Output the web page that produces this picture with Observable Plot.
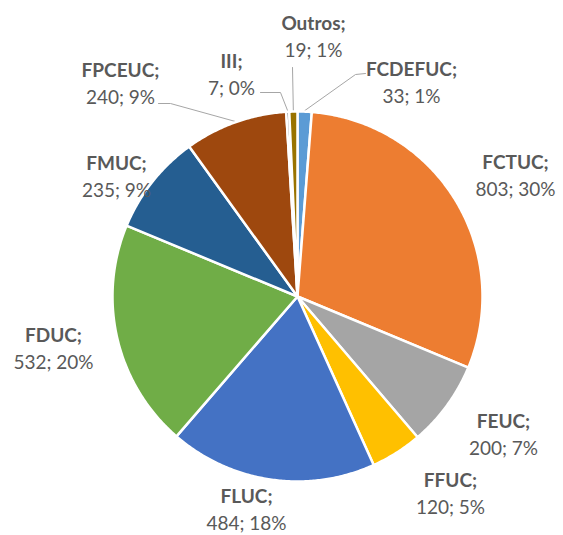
<!DOCTYPE html>
<html>
<head>
<meta charset="utf-8">
<script src="https://cdn.jsdelivr.net/npm/d3@7"></script>
<script src="https://cdn.jsdelivr.net/npm/@observablehq/plot@0.6"></script>
<style>
  html, body { margin: 0; padding: 0; background: #fff; }
</style>
</head>
<body>
<div id="chart"></div>
<script>
// ---- data ----
const categories = ["FCDEFUC", "FCTUC", "FEUC", "FFUC", "FLUC", "FDUC", "FMUC", "FPCEUC", "III", "Outros"];
const values = [33, 803, 200, 120, 484, 532, 235, 240, 7, 19];
const percentLabels = ["1%", "30%", "7%", "5%", "18%", "20%", "9%", "9%", "0%", "1%"];

// ---- style / layout ----
const colors = ["#5B9BD5", "#ED7D31", "#A5A5A5", "#FFC000", "#4472C4", "#70AD47", "#255E91", "#9E480E", "#636363", "#997300"];
const W = 563, H = 535;
const cx = 297, cy = 296, R = 185;
// label block centres (pixel space)
const labelX = [411, 515, 503, 450, 246, 53, 116, 120, 231, 313];
const labelY = [82.5, 176, 435, 493.5, 510, 348.5, 177, 83.5, 75, 36.5];
// leader-line elbow points, attached to labels (null = no leader)
const leaderElbows = [
  [[365, 73], [355, 74]],
  null, null, null, null, null, null,
  [[158, 103], [170, 103]],
  [[260, 92], [280, 92]],
  [[292, 67]]
];

// ---- geometry from data ----
const arcs = d3.pie().sort(null).value(d => d)(values);
const polar = (a, r) => ({x: cx + r * Math.sin(a), y: cy - r * Math.cos(a)});

const slicePts = [];
arcs.forEach((a, i) => {
  const name = categories[i];
  slicePts.push({name, ...polar(0, 0)});
  const n = Math.max(2, Math.ceil((a.endAngle - a.startAngle) / (Math.PI / 360)));
  for (let k = 0; k <= n; k++) {
    const t = a.startAngle + (a.endAngle - a.startAngle) * k / n;
    slicePts.push({name, ...polar(t, R)});
  }
  slicePts.push({name, ...polar(0, 0)});
});

const leaderPts = [];
arcs.forEach((a, i) => {
  const el = leaderElbows[i];
  if (!el) return;
  const name = categories[i];
  el.forEach(p => leaderPts.push({name, x: p[0], y: p[1]}));
  const mid = (a.startAngle + a.endAngle) / 2;
  leaderPts.push({name, ...polar(mid, R + 1)});
});

const labels = categories.map((c, i) => ({
  name: c + ";",
  value: values[i] + "; " + percentLabels[i],
  x: labelX[i],
  y: labelY[i]
}));

const font = "Lato, 'Open Sans', sans-serif";
const chart = Plot.plot({
  width: W,
  height: H,
  margin: 0,
  style: {background: "#fff", fontFamily: font},
  x: {domain: [0, W], range: [0, W], axis: null},
  y: {domain: [0, H], range: [0, H], axis: null},
  color: {domain: categories, range: colors},
  marks: [
    Plot.line(leaderPts, {x: "x", y: "y", z: "name", stroke: "#A6A6A6", strokeWidth: 1}),
    Plot.line(slicePts, {x: "x", y: "y", z: "name", fill: "name", stroke: "white", strokeWidth: 2.5, strokeLinejoin: "round", curve: "linear"}),
    Plot.text(labels, {x: "x", y: d => d.y - 13.5, text: "name", fontWeight: "bold", fontSize: 19, fill: "#595959", fontFamily: font}),
    Plot.text(labels, {x: "x", y: d => d.y + 13.5, text: "value", fontSize: 19, fill: "#595959", fontFamily: font})
  ]
});
document.getElementById("chart").appendChild(chart);
</script>
</body>
</html>
